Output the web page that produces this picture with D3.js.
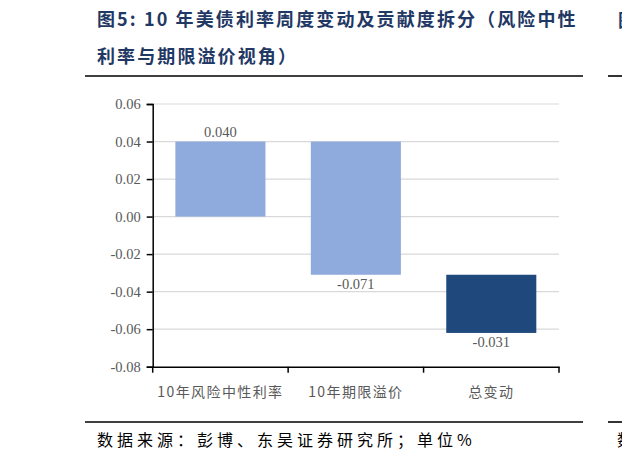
<!DOCTYPE html>
<html>
<head>
<meta charset="utf-8">
<script src="https://cdn.jsdelivr.net/npm/d3@7/dist/d3.min.js"></script>
<style>
  body { margin: 0; background: #fff; overflow: hidden; }
  svg { display: block; }
</style>
</head>
<body>
<div class="chart"></div>
<script>
var titleLines = ["图5:  10 年美债利率周度变动及贡献度拆分（风险中性", "利率与期限溢价视角）"];
var sourceText = "数据来源：彭博、东吴证券研究所；单位%";
var categories = ["10年风险中性利率", "10年期限溢价", "总变动"];
var barStarts = [0, 0.040, -0.031];
var barValues = [0.040, -0.071, -0.031];
var barLabels = ["0.040", "-0.071", "-0.031"];
var barColors = ["#8faadc", "#8faadc", "#1f497d"];
var yTicks = [0.06, 0.04, 0.02, 0.00, -0.02, -0.04, -0.06, -0.08];

var W = 622, H = 462;
var plotL = 152.7, plotR = 559, plotT = 104, plotB = 366.7;

var svg = d3.select(".chart").append("svg")
  .attr("width", W)
  .attr("height", H);

// title
svg.selectAll("text.title")
  .data(titleLines)
  .enter().append("text")
  .attr("class", "title")
  .attr("x", 97)
  .attr("y", function(d, i) { return 26 + i * 37; })
  .attr("fill", "#1f3864")
  .attr("font-family", "'Noto Sans CJK SC', 'Liberation Serif', serif")
  .attr("font-weight", "bold")
  .attr("font-size", 18)
  .attr("letter-spacing", 2.1)
  .text(function(d) { return d; });

// rules, incl. the neighbouring figure's bits at the right edge
var rules = [[85, 583, 76], [85, 583, 422], [608, 622, 76], [608, 622, 422]];
svg.append("g").selectAll("line")
  .data(rules)
  .enter().append("line")
  .attr("x1", function(d) { return d[0]; })
  .attr("x2", function(d) { return d[1]; })
  .attr("y1", function(d) { return d[2]; })
  .attr("y2", function(d) { return d[2]; })
  .attr("stroke", "#000").attr("stroke-width", 1.6);

svg.append("text").attr("x", 618).attr("y", 27)
  .attr("fill", "#1f3864").attr("font-family", "'Noto Sans CJK SC'")
  .attr("font-weight", "bold").attr("font-size", 18).text("图");
svg.append("text").attr("x", 617).attr("y", 446)
  .attr("fill", "#000").attr("font-family", "'Noto Sans CJK SC'")
  .attr("font-size", 16).text("数");

// source
svg.append("text")
  .attr("x", 97)
  .attr("y", 446)
  .attr("fill", "#000")
  .attr("font-family", "'Noto Sans CJK SC', sans-serif")
  .attr("font-size", 16)
  .attr("letter-spacing", 4)
  .text(sourceText);

var x = d3.scaleBand().domain(categories).range([plotL, plotR]).paddingInner(0.335).paddingOuter(0.1675);
var xTick = d3.scaleBand().domain(categories).range([plotL, plotR]);
var y = d3.scaleLinear().domain([-0.08, 0.06]).range([plotB, plotT]);

// grid
svg.append("g").selectAll("line")
  .data(yTicks.filter(function(d) { return d > -0.08; }))
  .enter().append("line")
  .attr("x1", plotL).attr("x2", plotR)
  .attr("y1", function(d) { return y(d); })
  .attr("y2", function(d) { return y(d); })
  .attr("stroke", "#d9d9d9")
  .attr("stroke-width", 1.2);

// bars
svg.append("g").selectAll("rect")
  .data(categories)
  .enter().append("rect")
  .attr("x", function(d) { return x(d); })
  .attr("width", x.bandwidth())
  .attr("y", function(d, i) { return y(Math.max(barStarts[i], barStarts[i] + barValues[i])); })
  .attr("height", function(d, i) { return Math.abs(y(barStarts[i]) - y(barStarts[i] + barValues[i])); })
  .attr("fill", function(d, i) { return barColors[i]; });

// data labels
svg.append("g").selectAll("text")
  .data(categories)
  .enter().append("text")
  .attr("x", function(d) { return x(d) + x.bandwidth() / 2; })
  .attr("y", function(d, i) {
    var end = barStarts[i] + barValues[i];
    return barValues[i] >= 0 ? y(end) - 5 : y(end) + 14;
  })
  .attr("text-anchor", "middle")
  .attr("fill", "#595959")
  .attr("font-family", "'Liberation Serif', serif")
  .attr("font-size", 14.5)
  .text(function(d, i) { return barLabels[i]; });

// y axis
var yAxis = d3.axisLeft(y).tickValues(yTicks).tickSize(6).tickPadding(6);
var gy = svg.append("g").attr("transform", "translate(" + plotL + ",0)").call(yAxis);
gy.select(".domain").attr("stroke", "#000").attr("stroke-width", 1.5);
gy.selectAll(".tick line").attr("stroke", "#000").attr("stroke-width", 1.5);
gy.selectAll(".tick text")
  .attr("fill", "#595959")
  .attr("font-family", "'Liberation Serif', serif")
  .attr("font-size", 14.5)
  .text(function(d) { return d3.format(".2f")(d).replace("\u2212", "-"); });

// x axis
var xAxis = d3.axisBottom(xTick).tickSize(0).tickPadding(20);
var gx = svg.append("g").attr("transform", "translate(0," + plotB + ")").call(xAxis);
gx.select(".domain").attr("stroke", "#000").attr("stroke-width", 1.5);
gx.selectAll(".tick text")
  .attr("fill", "#595959")
  .attr("font-family", "'Noto Sans CJK SC', sans-serif")
  .attr("font-size", 14)
  .attr("letter-spacing", 1.4);
svg.append("g").selectAll("line")
  .data(categories.concat(["end"]))
  .enter().append("line")
  .attr("x1", function(d, i) { return plotL + i * xTick.step(); })
  .attr("x2", function(d, i) { return plotL + i * xTick.step(); })
  .attr("y1", plotB)
  .attr("y2", plotB + 6)
  .attr("stroke", "#000")
  .attr("stroke-width", 1.5);
</script>
</body>
</html>
